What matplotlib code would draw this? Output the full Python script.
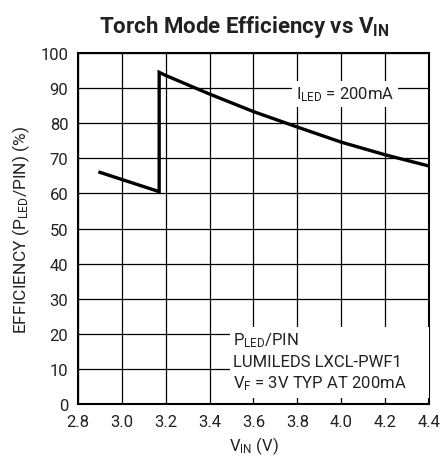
import matplotlib
matplotlib.use("Agg")
import matplotlib.pyplot as plt
from matplotlib.patches import Rectangle

# ── Data ──────────────────────────────────────────────────────────────────────
vin = [2.9, 3.17, 3.17, 3.2, 3.4, 3.6, 3.8, 4.0, 4.2, 4.4]
eff = [66.0, 60.5, 94.5, 93.6, 88.3, 83.3, 78.9, 74.6, 71.0, 67.8]

x_ticks = [2.8, 3.0, 3.2, 3.4, 3.6, 3.8, 4.0, 4.2, 4.4]
y_ticks = [0, 10, 20, 30, 40, 50, 60, 70, 80, 90, 100]

# ── Style ─────────────────────────────────────────────────────────────────────
plt.rcParams["font.family"] = ["Roboto", "DejaVu Sans"]
plt.rcParams["mathtext.fontset"] = "custom"
plt.rcParams["mathtext.rm"] = "Roboto"
plt.rcParams["mathtext.it"] = "Roboto"
plt.rcParams["mathtext.bf"] = "Roboto:bold"
plt.rcParams["mathtext.default"] = "rm"
TXT = "#222222"

fig = plt.figure(figsize=(4.46, 4.60), dpi=100)
ax = fig.add_axes([78 / 446, 1 - 405 / 460, (429 - 78) / 446, (405 - 54) / 460])

ax.plot(vin, eff, color="black", lw=2.4, solid_joinstyle="miter", zorder=4)

ax.set_xlim(2.8, 4.4)
ax.set_ylim(0, 100)
ax.set_xticks(x_ticks)
ax.set_xticklabels([f"{v:.1f}" for v in x_ticks])
ax.set_yticks(y_ticks)
ax.grid(True, color="black", lw=0.9)
ax.tick_params(length=0, labelsize=12, colors=TXT, pad=7)
for s in ax.spines.values():
    s.set_linewidth(1.5)

# white patch behind the note block
ax.add_patch(Rectangle((3.493, 1.8), 0.907, 20.0, facecolor="white",
                       edgecolor="none", zorder=3))
ax.text(3.508, 18.4, "$P_{LED}$/PIN", fontsize=12, color=TXT, va="center", zorder=5)
ax.text(3.508, 12.2, "LUMILEDS LXCL-PWF1", fontsize=12, color=TXT, va="center", zorder=5)
ax.text(3.508, 6.0, "$V_F$ = 3V TYP AT 200mA", fontsize=12, color=TXT, va="center", zorder=5)

ax.text(4.017, 88.4, "$I_{LED}$ = 200mA", fontsize=12, color=TXT, ha="center", va="center",
        bbox=dict(facecolor="white", edgecolor="none", pad=2.5), zorder=5)

ax.set_xlabel("$V_{IN}$ (V)", fontsize=12, color=TXT, labelpad=4)
ax.set_ylabel("EFFICIENCY ($P_{LED}$/PIN) (%)", fontsize=12.5, color=TXT, labelpad=6)

fig.text(244 / 446, 1 - 27 / 460, "Torch Mode Efficiency vs $\\mathbf{V_{IN}}$", ha="center",
         va="center", fontsize=16, fontweight="bold", color=TXT)

fig.savefig("out.png", dpi=100)
